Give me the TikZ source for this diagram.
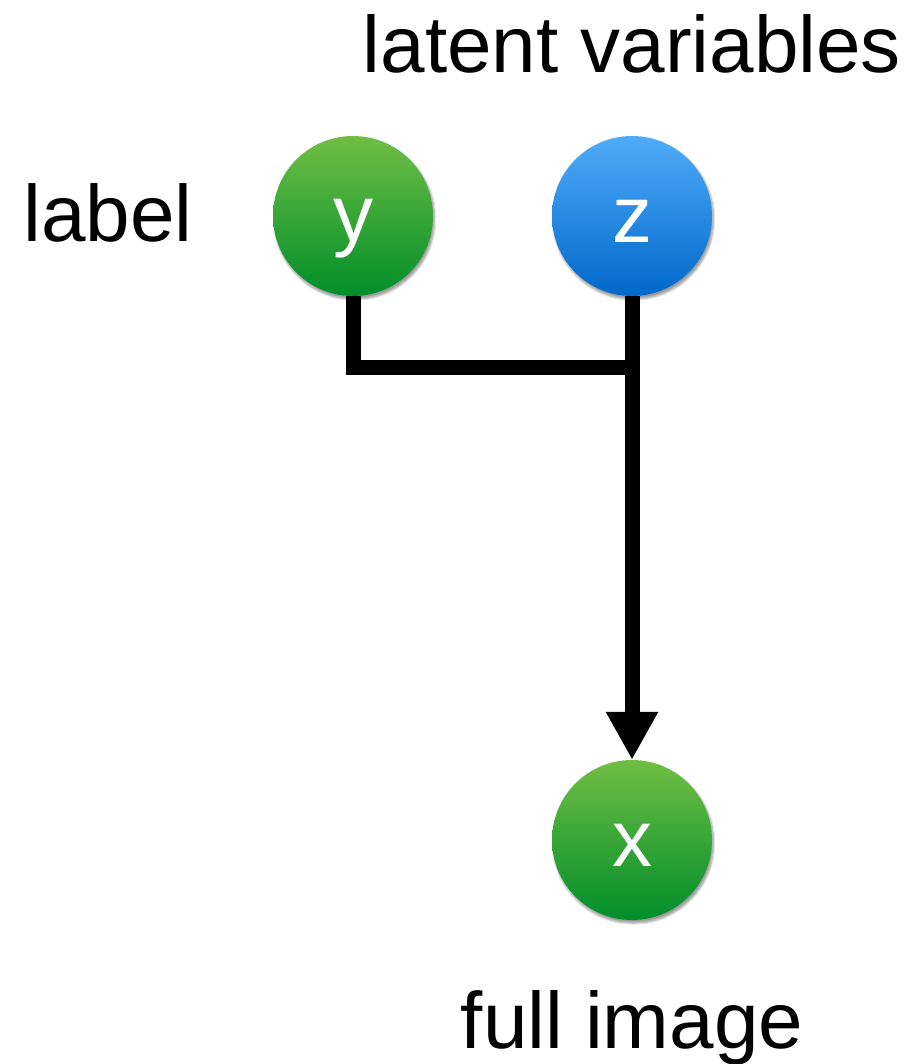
\documentclass[tikz,border=0pt]{standalone}
\usepackage{fontspec}
\setmainfont{Liberation Sans}
\usetikzlibrary{arrows.meta,shadows.blur}
\definecolor{greentop}{RGB}{112,190,68}
\definecolor{greenbot}{RGB}{0,142,42}
\definecolor{bluetop}{RGB}{80,172,248}
\definecolor{bluebot}{RGB}{0,104,202}
\begin{document}
\begin{tikzpicture}[x=1pt,y=-1pt,
  var/.style={circle,minimum size=160pt,inner sep=0pt,
    blur shadow={shadow xshift=1.5pt,shadow yshift=-3pt,shadow blur steps=6,
      shadow blur extra rounding=2pt,shadow opacity=40}},
  greenvar/.style={var,top color=greentop,bottom color=greenbot},
  bluevar/.style={var,top color=bluetop,bottom color=bluebot},
  varname/.style={font=\fontsize{80}{80}\selectfont,text=white,anchor=base},
  caption/.style={font=\fontsize{80}{80}\selectfont,anchor=base},
  wire/.style={line width=15pt,line join=miter}]
\useasboundingbox (0,0) rectangle (911,1064);

% variables
\node[greenvar] (y) at (353,216) {};
\node[bluevar]  (z) at (632,216) {};
\node[greenvar] (x) at (632,840) {};
\node[varname] (yt) at (353,242) {y};
\node[varname] (zt) at (632,243) {z};
\node[varname] (xt) at (632,866) {x};

% captions
\node[caption] (lab) at (108,242) {label};
\node[caption] (lat) at (632,73) {latent variables};
\node[caption] (full) at (632,1048) {full image};

% connectors
\coordinate (j) at (632,367);
\draw[wire] (y.south) |- (j);
\draw[wire,-{Triangle[width=49pt,length=48pt]}] (z.south) -- (x.north);
\end{tikzpicture}
\end{document}
